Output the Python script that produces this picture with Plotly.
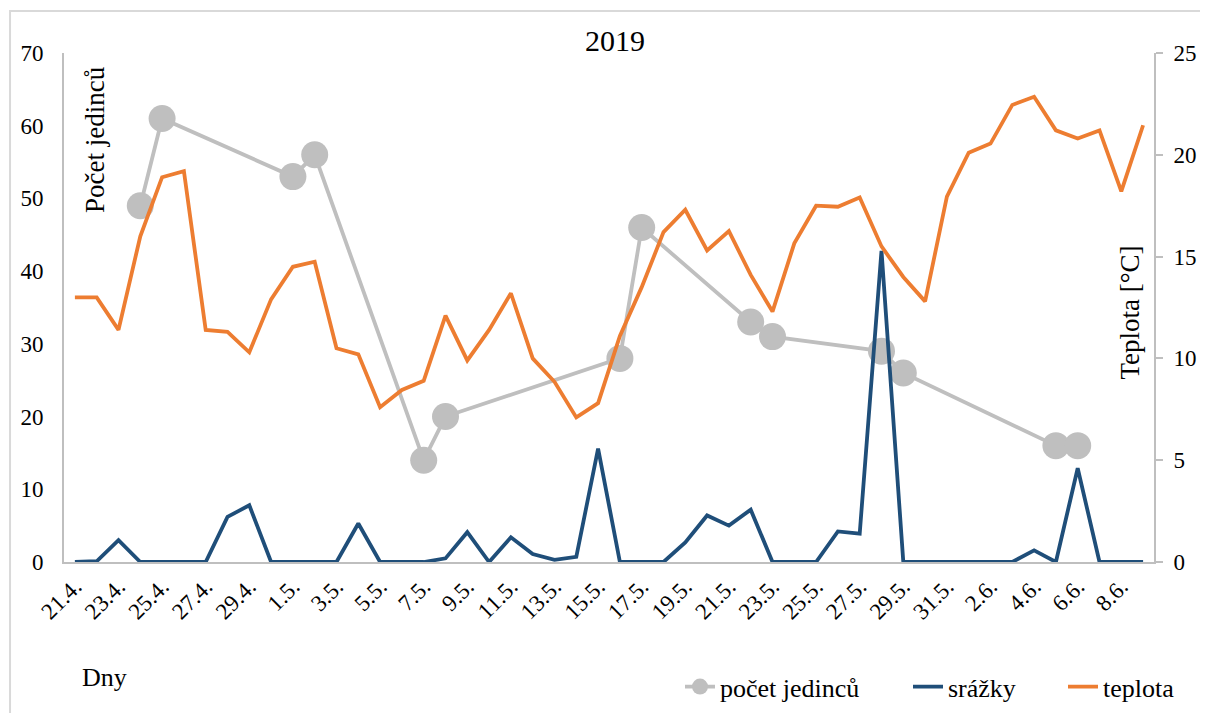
import plotly.graph_objects as go

# dny 21.4. - 9.6. 2019
dny = ["21.4.", "22.4.", "23.4.", "24.4.", "25.4.", "26.4.", "27.4.", "28.4.", "29.4.", "30.4.",
       "1.5.", "2.5.", "3.5.", "4.5.", "5.5.", "6.5.", "7.5.", "8.5.", "9.5.", "10.5.",
       "11.5.", "12.5.", "13.5.", "14.5.", "15.5.", "16.5.", "17.5.", "18.5.", "19.5.", "20.5.",
       "21.5.", "22.5.", "23.5.", "24.5.", "25.5.", "26.5.", "27.5.", "28.5.", "29.5.", "30.5.",
       "31.5.", "1.6.", "2.6.", "3.6.", "4.6.", "5.6.", "6.6.", "7.6.", "8.6.", "9.6."]

pocet_jedincu = [None, None, None, 49, 61, None, None, None, None, None,
                 53, 56, None, None, None, None, 14, 20, None, None,
                 None, None, None, None, None, 28, 46, None, None, None,
                 None, 33, 31, None, None, None, None, 29, 26, None,
                 None, None, None, None, None, 16, 16, None, None, None]

srazky = [0, 0.1, 3.0, 0, 0, 0, 0, 6.2, 7.8, 0,
          0, 0, 0, 5.3, 0, 0, 0, 0.5, 4.1, 0,
          3.4, 1.1, 0.3, 0.7, 15.6, 0, 0, 0, 2.7, 6.4,
          5.0, 7.2, 0, 0, 0, 4.2, 3.9, 42.8, 0, 0,
          0, 0, 0, 0, 1.6, 0, 12.9, 0, 0, 0]

teplota = [13.0, 13.0, 11.4, 16.0, 18.9, 19.2, 11.4, 11.3, 10.3, 12.9,
           14.5, 14.75, 10.5, 10.2, 7.6, 8.45, 8.9, 12.1, 9.9, 11.4,
           13.2, 10.0, 8.85, 7.1, 7.8, 11.1, 13.5, 16.2, 17.3, 15.3,
           16.25, 14.1, 12.3, 15.65, 17.5, 17.45, 17.9, 15.5, 14.0, 12.8,
           17.95, 20.1, 20.55, 22.45, 22.85, 21.2, 20.8, 21.2, 18.2, 21.45]

FONT = "Times New Roman, Liberation Serif, DejaVu Serif, serif"
GREY = "#BFBFBF"
BLUE = "#1F4E79"
ORANGE = "#ED7D31"
AXIS = "#BFBFBF"

x = list(range(len(dny)))

fig = go.Figure()
fig.add_trace(go.Scatter(
    x=x, y=pocet_jedincu, name="počet jedinců", mode="lines+markers",
    connectgaps=True, line=dict(color=GREY, width=3.8),
    marker=dict(color=GREY, size=27), legend="legend"
))
fig.add_trace(go.Scatter(
    x=x, y=srazky, name="srážky", mode="lines",
    line=dict(color=BLUE, width=3.8), legend="legend2"
))
fig.add_trace(go.Scatter(
    x=x, y=teplota, name="teplota", mode="lines", yaxis="y2",
    line=dict(color=ORANGE, width=3.8), legend="legend3"
))


def legend_at(px):
    return dict(orientation="h", x=(px - 64) / 1090, xanchor="left", y=-0.245, yanchor="middle",
                font=dict(size=26, family=FONT), bgcolor="rgba(0,0,0,0)")


# page body adds an 8px offset, so the figure is 1200x705
fig.update_layout(
    width=1200, height=705,
    template="none",
    paper_bgcolor="white", plot_bgcolor="white",
    font=dict(family=FONT, color="black", size=22),
    margin=dict(l=56, r=54, t=45, b=151, autoexpand=False),
    showlegend=True,
    legend=legend_at(680),
    legend2=legend_at(908),
    legend3=legend_at(1063),
    xaxis=dict(range=[-0.5, len(dny) - 0.5], tickvals=x[::2], ticktext=dny[::2],
               tickangle=-45, showgrid=False, zeroline=False, showline=True,
               linecolor=AXIS, linewidth=2, ticks="", tickfont=dict(size=23),
               automargin=False),
    yaxis=dict(range=[0, 70], dtick=10, showgrid=False, zeroline=False, showline=True,
               linecolor=AXIS, linewidth=2, ticks="", tickfont=dict(size=23),
               ticklabelstandoff=14, automargin=False),
    yaxis2=dict(range=[0, 25], dtick=5, overlaying="y", side="right", showgrid=False,
                zeroline=False, showline=True, linecolor=AXIS, linewidth=2,
                ticks="outside", ticklen=7, tickwidth=2, tickcolor=AXIS,
                tickfont=dict(size=23), ticklabelstandoff=6, automargin=False),
    shapes=[dict(type="rect", xref="paper", yref="paper", x0=-0.0495, x1=1.2, y0=-0.5, y1=1.0825,
                 line=dict(color="#D9D9D9", width=2), fillcolor="rgba(0,0,0,0)", layer="below")],
    annotations=[
        dict(text="2019", xref="paper", yref="paper", x=0.5055, y=1.0236, showarrow=False,
             font=dict(size=30, family=FONT), xanchor="center", yanchor="middle"),
        dict(text="Počet jedinců", xref="paper", yref="paper", x=0.0284, y=0.831, showarrow=False,
             textangle=-90, font=dict(size=27, family=FONT), xanchor="center", yanchor="middle"),
        dict(text="Teplota [°C]", xref="paper", yref="paper", x=0.978, y=0.49, showarrow=False,
             textangle=-90, font=dict(size=27, family=FONT), xanchor="center", yanchor="middle"),
        dict(text="Dny", xref="paper", yref="paper", x=(80 - 64) / 1090, y=-0.226, showarrow=False,
             font=dict(size=26, family=FONT), xanchor="left", yanchor="middle"),
    ],
)

fig.write_html("out.html")
